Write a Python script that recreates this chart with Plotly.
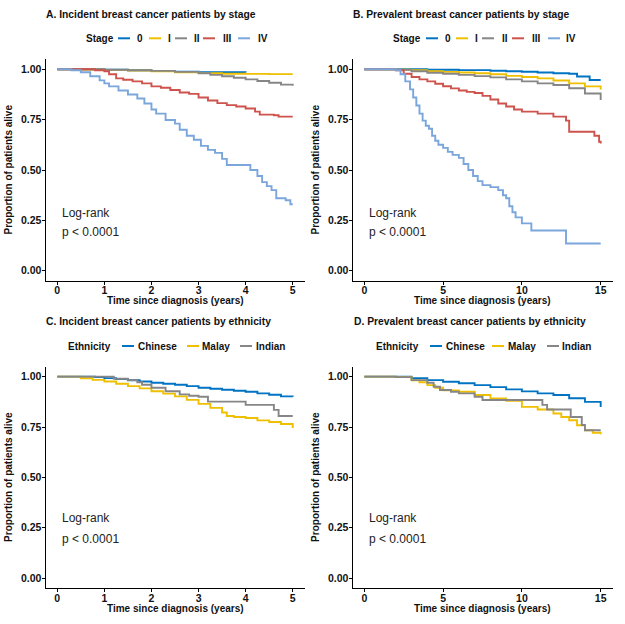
import plotly.graph_objects as go

W, H = 625, 624
FONT = "Liberation Sans, Arial, sans-serif"

# ---------------- data ----------------
stage_labels = ["0", "I", "II", "III", "IV"]
ethnicity_labels = ["Chinese", "Malay", "Indian"]
stage_colors = ["#0073C2", "#EFC000", "#868686", "#CD534C", "#7AA6DC"]
eth_colors = ["#0073C2", "#EFC000", "#868686"]

x_ticks_inc = [0, 1, 2, 3, 4, 5]
x_ticks_prev = [0, 5, 10, 15]
y_ticks = [0.0, 0.25, 0.5, 0.75, 1.0]
y_ticklabels = ["0.00", "0.25", "0.50", "0.75", "1.00"]

# A. Incident by stage
A0_t = [0, 0.5, 1.0, 1.5, 2.0, 2.5, 3.0, 3.5, 4.0]
A0_s = [1.0, 1.0, 0.998, 0.995, 0.992, 0.988, 0.986, 0.985, 0.984]
A1_t = [0, 0.5, 1, 1.5, 2, 2.5, 3, 3.5, 4, 4.5, 5]
A1_s = [1, 0.999, 0.997, 0.994, 0.99, 0.985, 0.981, 0.978, 0.977, 0.976, 0.976]
A2_t = [0, 0.5, 1, 1.5, 2, 2.5, 3, 3.25, 3.5, 3.75, 4, 4.25, 4.5, 4.75, 5]
A2_s = [1, 1, 0.998, 0.995, 0.992, 0.987, 0.98, 0.972, 0.965, 0.958, 0.95, 0.942, 0.933, 0.924, 0.918]
A3_t = [0, 0.8, 1.0, 1.1, 1.25, 1.4, 1.6, 1.8, 2.0, 2.2, 2.4, 2.6, 2.8, 3.0, 3.2, 3.4, 3.6, 3.8, 4.0, 4.2, 4.3, 4.6, 4.7, 5.0]
A3_s = [1, 0.995, 0.99, 0.975, 0.955, 0.948, 0.94, 0.93, 0.915, 0.908, 0.897, 0.885, 0.878, 0.86, 0.845, 0.832, 0.822, 0.815, 0.805, 0.79, 0.775, 0.772, 0.765, 0.765]
A4_t = [0, 0.3, 0.5, 0.7, 0.9, 1.0, 1.1, 1.3, 1.5, 1.7, 1.85, 2.0, 2.1, 2.3, 2.5, 2.6, 2.75, 2.9, 3.05, 3.2, 3.35, 3.5, 3.6, 4.0, 4.1, 4.25, 4.35, 4.45, 4.55, 4.65, 4.85, 4.95, 5.0]
A4_s = [1, 0.995, 0.985, 0.965, 0.945, 0.93, 0.915, 0.895, 0.875, 0.855, 0.83, 0.8, 0.78, 0.748, 0.73, 0.7, 0.67, 0.65, 0.62, 0.6, 0.585, 0.555, 0.525, 0.525, 0.5, 0.47, 0.44, 0.42, 0.4, 0.36, 0.35, 0.33, 0.33]

# B. Prevalent by stage
B0_t = [0, 2, 4, 6, 8, 9, 10, 11, 12, 13, 13.5, 14.2, 14.3, 15]
B0_s = [1, 1, 0.998, 0.996, 0.993, 0.99, 0.988, 0.984, 0.98, 0.978, 0.964, 0.964, 0.947, 0.947]
B1_t = [0, 2, 3, 4, 5, 6, 7, 8, 9, 10, 11, 12, 13, 14, 15]
B1_s = [1, 0.998, 0.995, 0.99, 0.987, 0.984, 0.98, 0.975, 0.967, 0.962, 0.955, 0.944, 0.93, 0.915, 0.9]
B2_t = [0, 2, 3, 4, 5, 6, 7, 8, 9, 10, 11, 12, 13, 14, 15]
B2_s = [1, 0.997, 0.99, 0.983, 0.978, 0.972, 0.966, 0.96, 0.95, 0.94, 0.93, 0.922, 0.906, 0.88, 0.848]
B3_t = [0, 2, 2.5, 3, 3.5, 4, 4.5, 5, 5.5, 6, 6.5, 7, 7.5, 8, 8.5, 9, 9.5, 10, 11, 12, 12.8, 13, 14.4, 14.6, 14.9, 15]
B3_s = [1, 0.995, 0.978, 0.962, 0.95, 0.94, 0.928, 0.916, 0.905, 0.895, 0.888, 0.882, 0.868, 0.85, 0.83, 0.815, 0.8, 0.79, 0.78, 0.765, 0.745, 0.69, 0.69, 0.67, 0.64, 0.632]
B4_t = [0, 2.0, 2.3, 2.6, 2.9, 3.1, 3.3, 3.5, 3.7, 3.9, 4.1, 4.3, 4.5, 4.7, 5.0, 5.3, 5.6, 6.0, 6.3, 6.6, 6.9, 7.2, 7.5, 8.0, 8.5, 8.8, 9.0, 9.2, 9.4, 9.6, 10.0, 10.6, 12.8, 15.0]
B4_s = [1, 0.995, 0.975, 0.94, 0.9, 0.86, 0.82, 0.78, 0.745, 0.72, 0.705, 0.67, 0.645, 0.625, 0.61, 0.59, 0.575, 0.56, 0.53, 0.5, 0.47, 0.445, 0.425, 0.415, 0.4, 0.375, 0.36, 0.32, 0.29, 0.265, 0.235, 0.2, 0.135, 0.135]

# C. Incident by ethnicity
C0_t = [0, 0.8, 1, 1.25, 1.5, 1.75, 2, 2.25, 2.5, 2.75, 3, 3.25, 3.5, 3.75, 4, 4.25, 4.5, 4.75, 5]
C0_s = [1, 0.998, 0.993, 0.988, 0.982, 0.976, 0.97, 0.965, 0.96, 0.953, 0.945, 0.94, 0.935, 0.93, 0.925, 0.917, 0.91, 0.902, 0.9]
C1_t = [0, 0.5, 0.75, 1, 1.25, 1.5, 1.75, 2, 2.25, 2.5, 2.75, 3, 3.25, 3.5, 3.6, 3.75, 4, 4.25, 4.5, 4.75, 5]
C1_s = [1, 0.992, 0.984, 0.976, 0.965, 0.953, 0.942, 0.928, 0.916, 0.902, 0.885, 0.865, 0.845, 0.822, 0.805, 0.8, 0.795, 0.783, 0.775, 0.765, 0.745]
C2_t = [0, 0.8, 1.2, 1.5, 1.7, 1.8, 2.0, 2.3, 2.6, 2.8, 3.0, 3.2, 3.9, 4.0, 4.55, 4.6, 4.7, 5.0]
C2_s = [1, 1, 0.99, 0.983, 0.972, 0.96, 0.945, 0.928, 0.912, 0.905, 0.9, 0.876, 0.876, 0.86, 0.86, 0.835, 0.805, 0.805]

# D. Prevalent by ethnicity
D0_t = [0, 2.2, 3, 4, 5, 6, 7, 8, 9, 10, 11, 12, 13, 14, 15]
D0_s = [1, 1, 0.992, 0.983, 0.975, 0.967, 0.958, 0.948, 0.937, 0.927, 0.917, 0.909, 0.893, 0.875, 0.85]
D1_t = [0, 2, 3, 3.5, 4, 4.5, 5, 6, 7, 8, 9, 10, 11, 12, 12.5, 13, 13.5, 14, 14.5, 15]
D1_s = [1, 0.998, 0.982, 0.972, 0.958, 0.945, 0.932, 0.925, 0.909, 0.892, 0.88, 0.85, 0.837, 0.817, 0.8, 0.784, 0.759, 0.734, 0.722, 0.714]
D2_t = [0, 2, 3, 4, 4.4, 4.8, 5.5, 6, 7, 7.5, 11.1, 11.3, 11.6, 13.0, 13.1, 13.7, 13.8, 14.0, 15]
D2_s = [1, 0.998, 0.983, 0.97, 0.95, 0.934, 0.925, 0.917, 0.9, 0.884, 0.884, 0.86, 0.837, 0.837, 0.8, 0.8, 0.76, 0.734, 0.734]

titles = ["A. Incident breast cancer patients by stage",
          "B. Prevalent breast cancer patients by stage",
          "C. Incident breast cancer patients by ethnicity",
          "D. Prevalent breast cancer patients by ethnicity"]

# ---------------- layout helpers ----------------
def px(x):
    return x / W

def py(y):
    return 1 - y / H

fig = go.Figure()

panels = [
    dict(ax="", xr=[-0.25, 5.25], ticks=x_ticks_inc, xd=[45.5, 304.5], yd=[59.2, 280.8],
         curves=[(A0_t, A0_s), (A1_t, A1_s), (A2_t, A2_s), (A3_t, A3_s), (A4_t, A4_s)], colors=stage_colors),
    dict(ax="2", xr=[-0.75, 15.75], ticks=x_ticks_prev, xd=[352.5, 612.5], yd=[59.2, 280.8],
         curves=[(B0_t, B0_s), (B1_t, B1_s), (B2_t, B2_s), (B3_t, B3_s), (B4_t, B4_s)], colors=stage_colors),
    dict(ax="3", xr=[-0.25, 5.25], ticks=x_ticks_inc, xd=[45.5, 304.5], yd=[366.6, 588.2],
         curves=[(C0_t, C0_s), (C1_t, C1_s), (C2_t, C2_s)], colors=eth_colors),
    dict(ax="4", xr=[-0.75, 15.75], ticks=x_ticks_prev, xd=[352.5, 612.5], yd=[366.6, 588.2],
         curves=[(D0_t, D0_s), (D1_t, D1_s), (D2_t, D2_s)], colors=eth_colors),
]

axis_common = dict(showline=True, linecolor="black", linewidth=1, ticks="outside", ticklen=3,
                   tickcolor="black", tickwidth=1, showgrid=False, zeroline=False,
                   tickfont=dict(family=FONT, size=10.5, color="#111", weight="bold"))

annotations = []
shapes = []

for i, p in enumerate(panels):
    for (t, s), c in zip(p["curves"], p["colors"]):
        fig.add_trace(go.Scatter(x=t, y=s, mode="lines", line=dict(color=c, width=1.9, shape="hv"),
                                 xaxis="x" + p["ax"], yaxis="y" + p["ax"], showlegend=False,
                                 hoverinfo="skip"))
    xa = dict(axis_common, domain=[px(p["xd"][0]), px(p["xd"][1])], range=p["xr"],
              tickvals=p["ticks"], anchor="y" + p["ax"], ticklabelstandoff=-3)
    ya = dict(axis_common, domain=[py(p["yd"][1]), py(p["yd"][0])], range=[-0.05, 1.05],
              tickvals=y_ticks, ticktext=y_ticklabels, anchor="x" + p["ax"], ticklabelstandoff=-2)
    fig.update_layout(**{"xaxis" + p["ax"]: xa, "yaxis" + p["ax"]: ya})

    xref = "x" + p["ax"]
    yref = "y" + p["ax"]
    x_text = 0.05 if p["xr"][1] < 6 else 0.15
    ylr = 0.287 if i < 2 else 0.298
    ypv = 0.190 if i < 2 else 0.195
    annotations.append(dict(text="Log-rank", x=x_text, y=ylr, xref=xref, yref=yref,
                            xanchor="left", yanchor="middle", showarrow=False,
                            font=dict(family=FONT, size=12, color="#222")))
    annotations.append(dict(text="p &lt; 0.0001", x=x_text, y=ypv, xref=xref, yref=yref,
                            xanchor="left", yanchor="middle", showarrow=False,
                            font=dict(family=FONT, size=12, color="#222")))
    # axis titles
    cx = (p["xd"][0] + p["xd"][1]) / 2
    cy = (p["yd"][0] + p["yd"][1]) / 2
    annotations.append(dict(text="<b>Time since diagnosis (years)</b>", x=px(cx), y=py(p["yd"][1] + 20),
                            xref="paper", yref="paper", xanchor="center", yanchor="middle",
                            showarrow=False, font=dict(family=FONT, size=10, color="#111")))
    annotations.append(dict(text="<b>Proportion of patients alive</b>", x=px(p["xd"][0] - 37), y=py(cy),
                            xref="paper", yref="paper", xanchor="center", yanchor="middle",
                            textangle=-90, showarrow=False, font=dict(family=FONT, size=10, color="#111")))

# panel titles
title_pos = [(45, 14), (352, 14), (45, 321.7), (352.7, 321.7)]
for txt, (tx, ty) in zip(titles, title_pos):
    annotations.append(dict(text="<b>" + txt + "</b>", x=px(tx - 1), y=py(ty), xref="paper", yref="paper",
                            xanchor="left", yanchor="middle", showarrow=False,
                            font=dict(family=FONT, size=10.3, color="#111")))

# legends (text + line keys)
legends = [
    dict(title="Stage", tx=85, y=38.3, lines=[118, 149, 175, 203, 238], labs=[136, 167, 193, 222, 257],
         labels=stage_labels, colors=stage_colors),
    dict(title="Stage", tx=392, y=38.3, lines=[426, 456, 482, 512, 548], labs=[444, 474, 501, 531, 565],
         labels=stage_labels, colors=stage_colors),
    dict(title="Ethnicity", tx=67, y=346, lines=[122, 187, 240], labs=[137, 201, 255],
         labels=ethnicity_labels, colors=eth_colors),
    dict(title="Ethnicity", tx=375, y=346, lines=[430, 492, 547], labs=[445, 507, 561],
         labels=ethnicity_labels, colors=eth_colors),
]
for lg in legends:
    annotations.append(dict(text="<b>" + lg["title"] + "</b>", x=px(lg["tx"] - 1), y=py(lg["y"]),
                            xref="paper", yref="paper", xanchor="left", yanchor="middle", showarrow=False,
                            font=dict(family=FONT, size=10, color="#111")))
    for lx, labx, lab, col in zip(lg["lines"], lg["labs"], lg["labels"], lg["colors"]):
        shapes.append(dict(type="line", xref="paper", yref="paper", x0=px(lx), x1=px(lx + 12),
                           y0=py(lg["y"]), y1=py(lg["y"]), line=dict(color=col, width=2)))
        annotations.append(dict(text="<b>" + lab + "</b>", x=px(labx - 1), y=py(lg["y"]),
                                xref="paper", yref="paper", xanchor="left", yanchor="middle",
                                showarrow=False, font=dict(family=FONT, size=10, color="#111")))

fig.update_layout(width=W, height=H, margin=dict(l=0, r=0, t=0, b=0),
                  paper_bgcolor="white", plot_bgcolor="white",
                  annotations=annotations, shapes=shapes, showlegend=False,
                  font=dict(family=FONT), hovermode=False)

fig.write_html("out.html", config={"displayModeBar": False},
               post_script="document.body.style.margin='0';document.body.style.padding='0';")
